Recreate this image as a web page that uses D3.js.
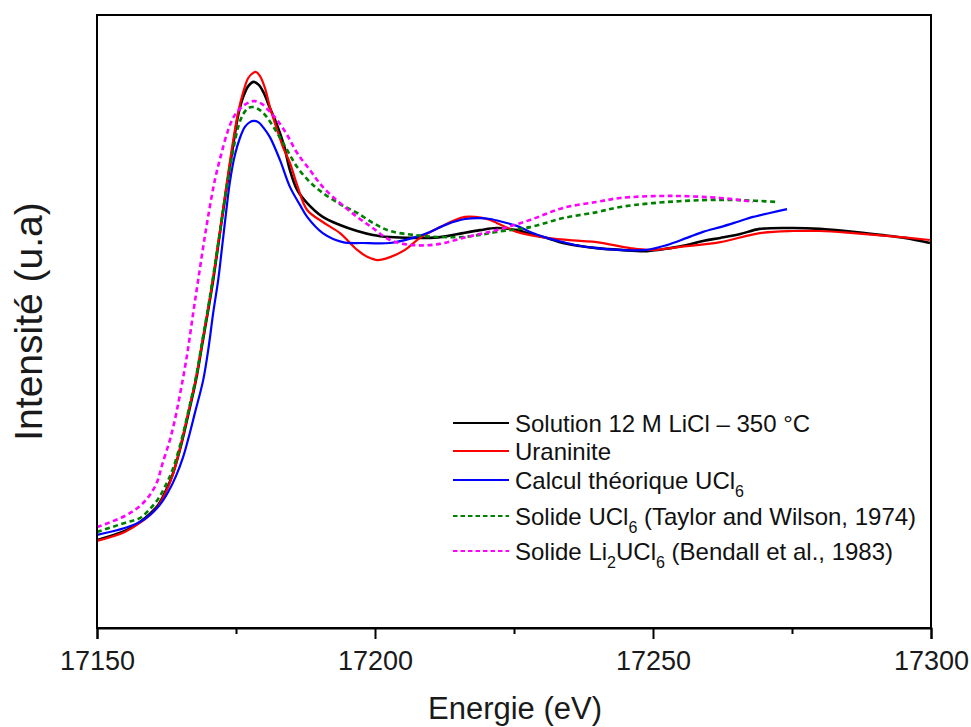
<!DOCTYPE html>
<html>
<head>
<meta charset="utf-8">
<script src="https://cdn.jsdelivr.net/npm/d3@7"></script>
<style>
  html, body { margin: 0; padding: 0; background: #fff; }
  svg { display: block; font-family: "Liberation Sans", Arial, sans-serif; }
</style>
</head>
<body>
<svg id="chart" width="971" height="727"></svg>
<script>
// ---------- Data ----------
const xMajorTicks = [17150, 17200, 17250, 17300];
const xMinorTicks = [17175, 17225, 17275];

// Solution 12 M LiCl – 350 °C
const solutionE = [17150.0,17155.0,17157.7,17159.5,17161.0,17162.2,17163.5,17164.9,17166.4,17167.8,17168.9,17170.0,17170.9,17171.8,17172.7,17173.6,17174.5,17175.4,17176.3,17177.2,17178.2,17179.1,17180.0,17181.1,17182.4,17183.6,17184.7,17186.0,17187.8,17190.6,17193.7,17196.8,17199.6,17202.7,17206.8,17209.9,17213.0,17215.8,17218.9,17221.9,17225.5,17227.9,17230.9,17233.8,17236.9,17239.9,17244.1,17248.9,17253.1,17256.1,17259.0,17262.1,17265.7,17269.2,17275.2,17280.0,17286.0,17290.8,17295.3,17299.8];
const solutionI = [0.000,0.030,0.060,0.087,0.117,0.157,0.213,0.300,0.417,0.533,0.650,0.767,0.867,0.983,1.100,1.210,1.317,1.417,1.477,1.513,1.527,1.517,1.490,1.440,1.383,1.317,1.233,1.167,1.123,1.077,1.050,1.030,1.017,1.010,1.007,1.007,1.013,1.023,1.033,1.040,1.033,1.020,1.007,0.990,0.980,0.973,0.967,0.963,0.973,0.983,0.997,1.007,1.020,1.037,1.040,1.037,1.027,1.017,1.007,0.990];

// Uraninite
const uraniniteE = [17150.0,17155.0,17157.7,17159.5,17161.0,17162.2,17163.5,17164.9,17166.4,17167.8,17168.9,17170.0,17170.9,17171.8,17172.7,17173.6,17174.5,17175.4,17176.3,17177.2,17178.1,17178.6,17179.3,17180.2,17181.1,17182.4,17183.5,17184.7,17186.0,17187.8,17190.6,17193.7,17196.8,17198.7,17200.5,17202.7,17205.4,17208.1,17211.7,17214.4,17216.2,17218.0,17220.1,17221.9,17225.5,17230.9,17236.9,17239.9,17245.9,17249.5,17254.9,17262.1,17269.2,17275.2,17280.0,17286.0,17292.6,17299.8];
const uraniniteI = [-0.003,0.027,0.057,0.083,0.113,0.153,0.210,0.303,0.423,0.540,0.657,0.773,0.877,0.990,1.107,1.223,1.333,1.427,1.493,1.540,1.557,1.560,1.547,1.507,1.443,1.367,1.307,1.257,1.183,1.100,1.060,1.023,0.967,0.943,0.933,0.943,0.967,1.007,1.043,1.067,1.077,1.077,1.070,1.057,1.027,1.007,0.997,0.993,0.973,0.967,0.977,0.993,1.023,1.030,1.030,1.023,1.013,1.000];

// Calcul théorique UCl6
const calculE = [17150.0,17155.0,17157.7,17159.5,17161.3,17162.8,17164.2,17165.5,17166.5,17167.6,17169.1,17170.0,17170.9,17171.8,17172.5,17173.2,17173.9,17174.8,17175.7,17176.6,17177.5,17178.2,17179.0,17180.0,17181.1,17182.9,17184.7,17186.5,17187.8,17190.6,17194.2,17197.8,17202.7,17206.8,17209.9,17213.0,17216.2,17218.9,17220.7,17223.0,17225.5,17227.9,17230.9,17233.8,17236.9,17239.9,17244.1,17248.9,17252.5,17256.1,17259.0,17262.1,17265.1,17268.0,17271.0,17274.1];
const calculI = [0.017,0.040,0.060,0.083,0.117,0.160,0.213,0.277,0.343,0.423,0.533,0.633,0.757,0.867,0.977,1.090,1.193,1.283,1.340,1.377,1.393,1.397,1.393,1.373,1.343,1.267,1.177,1.117,1.077,1.023,0.993,0.990,0.990,1.007,1.027,1.053,1.070,1.073,1.070,1.060,1.047,1.027,1.007,0.993,0.980,0.973,0.967,0.967,0.983,1.007,1.027,1.043,1.060,1.077,1.090,1.103];

// Solide UCl6 (Taylor and Wilson, 1974)
const taylorE = [17150.0,17155.0,17157.7,17159.5,17161.0,17162.2,17163.5,17164.9,17166.4,17167.8,17168.9,17170.0,17170.9,17171.8,17172.7,17173.6,17174.5,17175.4,17176.3,17177.2,17178.2,17179.3,17180.4,17182.4,17184.2,17186.0,17188.3,17190.6,17193.7,17196.8,17200.0,17202.7,17206.8,17211.7,17215.8,17218.9,17221.9,17227.9,17233.8,17239.9,17244.1,17250.0,17259.0,17265.7,17272.0];
const taylorI = [0.027,0.057,0.073,0.103,0.137,0.177,0.230,0.313,0.427,0.543,0.660,0.777,0.880,0.990,1.100,1.207,1.300,1.377,1.420,1.440,1.443,1.433,1.413,1.357,1.300,1.243,1.193,1.157,1.120,1.090,1.053,1.030,1.017,1.010,1.010,1.017,1.027,1.043,1.073,1.093,1.110,1.123,1.133,1.133,1.127];

// Solide Li2UCl6 (Bendall et al., 1983)
const bendallE = [17150.0,17155.0,17157.7,17159.5,17160.8,17161.7,17163.1,17164.0,17164.9,17166.2,17167.3,17168.2,17169.1,17170.1,17171.2,17172.3,17173.6,17174.8,17176.3,17177.5,17178.4,17179.7,17181.1,17182.4,17184.2,17186.0,17188.3,17190.6,17193.7,17196.8,17199.6,17202.7,17206.8,17211.7,17215.8,17218.9,17221.9,17227.9,17233.8,17239.9,17244.1,17253.1,17262.1,17265.7,17268.0];
const bendallI = [0.043,0.080,0.113,0.150,0.193,0.250,0.333,0.400,0.483,0.617,0.757,0.867,0.977,1.090,1.200,1.283,1.367,1.417,1.447,1.460,1.463,1.453,1.427,1.400,1.350,1.290,1.233,1.177,1.123,1.077,1.040,1.000,0.983,0.987,1.007,1.020,1.033,1.067,1.107,1.127,1.140,1.147,1.140,1.133,1.127];

const seriesNames = [
  "Solution 12 M LiCl – 350 °C",
  "Uraninite",
  "Calcul théorique UCl6",
  "Solide UCl6 (Taylor and Wilson, 1974)",
  "Solide Li2UCl6 (Bendall et al., 1983)"
];

// ---------- Build ----------
const series = [
  { E: solutionE,  I: solutionI,  color: "#000000", dash: null,  width: 2.6 },
  { E: uraniniteE, I: uraniniteI, color: "#ff0000", dash: null,  width: 2.2 },
  { E: calculE,    I: calculI,    color: "#0000ff", dash: null,  width: 2.2 },
  { E: taylorE,    I: taylorI,    color: "#008000", dash: "5,3.5", width: 2.6 },
  { E: bendallE,   I: bendallI,   color: "#ff00ff", dash: "5,3.5", width: 2.6 }
];

const svg = d3.select("#chart");
const mLeft = 97, mRight = 931, mTop = 15, mBottom = 628;

const x = d3.scaleLinear().domain([17150, 17300]).range([mLeft, mRight]);
const y = d3.scaleLinear().domain([-0.2933, 1.75]).range([mBottom, mTop]);

const line = d3.line()
  .x(d => x(d[0]))
  .y(d => y(d[1]))
  .curve(d3.curveCatmullRom.alpha(0.5));

svg.append("defs").append("clipPath").attr("id", "clip")
  .append("rect").attr("x", mLeft).attr("y", mTop).attr("width", mRight - mLeft).attr("height", mBottom - mTop);

const lines = svg.append("g").attr("clip-path", "url(#clip)");
series.forEach(s => {
  const pts = s.E.map((e, i) => [e, s.I[i]]);
  lines.append("path")
    .datum(pts)
    .attr("d", line)
    .attr("fill", "none")
    .attr("stroke", s.color)
    .attr("stroke-width", s.width)
    .attr("stroke-dasharray", s.dash)
    .attr("stroke-linejoin", "round");
});

// Frame
svg.append("rect")
  .attr("x", mLeft).attr("y", mTop)
  .attr("width", mRight - mLeft).attr("height", mBottom - mTop)
  .attr("fill", "none").attr("stroke", "#000").attr("stroke-width", 2);

// X axis (major)
const xAxis = svg.append("g")
  .attr("transform", `translate(0,${mBottom})`)
  .call(d3.axisBottom(x).tickValues(xMajorTicks).tickSize(11).tickFormat(d3.format("d")));
xAxis.select(".domain").attr("stroke", "#000").attr("stroke-width", 2);
xAxis.selectAll(".tick line").attr("stroke", "#000").attr("stroke-width", 2);
xAxis.selectAll(".tick text")
  .attr("y", 42).attr("dy", 0)
  .attr("font-size", 27).attr("font-family", "Liberation Sans, Arial, sans-serif")
  .attr("fill", "#1a1a1a");

// X axis (minor)
const xMinor = svg.append("g")
  .attr("transform", `translate(0,${mBottom})`)
  .call(d3.axisBottom(x).tickValues(xMinorTicks).tickSize(6).tickFormat(""));
xMinor.select(".domain").remove();
xMinor.selectAll(".tick line").attr("stroke", "#000").attr("stroke-width", 2);

// Axis titles
svg.append("text")
  .attr("x", (mLeft + mRight) / 2 + 1).attr("y", 719)
  .attr("text-anchor", "middle")
  .attr("font-size", 31).attr("fill", "#1a1a1a")
  .text("Energie (eV)");

svg.append("text")
  .attr("transform", `translate(42,${(mTop + mBottom) / 2}) rotate(-90)`)
  .attr("text-anchor", "middle")
  .attr("font-size", 39).attr("fill", "#1a1a1a")
  .text("Intensité (u.a)");

// Legend
const legendRows = [423, 451, 480, 516, 551];
const legend = svg.append("g");
function addLabel(g, xPos, yPos, name) {
  const t = g.append("text").attr("x", xPos).attr("y", yPos)
    .attr("font-size", 24).attr("fill", "#111");
  const parts = [];
  const re = /(Li)(2)|(UCl)(6)/g;
  let last = 0, m;
  while ((m = re.exec(name)) !== null) {
    const base = m[1] || m[3];
    const sub = m[2] || m[4];
    parts.push({ t: name.slice(last, m.index) + base, sub: false });
    parts.push({ t: sub, sub: true });
    last = m.index + m[0].length;
  }
  parts.push({ t: name.slice(last), sub: false });
  let shifted = false;
  parts.forEach(p => {
    if (!p.t) return;
    const ts = t.append("tspan").text(p.t);
    if (p.sub) {
      ts.attr("font-size", 16).attr("dy", 8);
      shifted = true;
    } else if (shifted) {
      ts.attr("dy", -8);
      shifted = false;
    }
  });
}
series.forEach((s, i) => {
  const yy = legendRows[i];
  legend.append("line")
    .attr("x1", 453).attr("x2", 509)
    .attr("y1", yy).attr("y2", yy)
    .attr("stroke", s.color).attr("stroke-width", 2)
    .attr("stroke-dasharray", s.dash ? "4.5,3" : null);
  addLabel(legend, 515, yy + 9, seriesNames[i]);
});
</script>
</body>
</html>
